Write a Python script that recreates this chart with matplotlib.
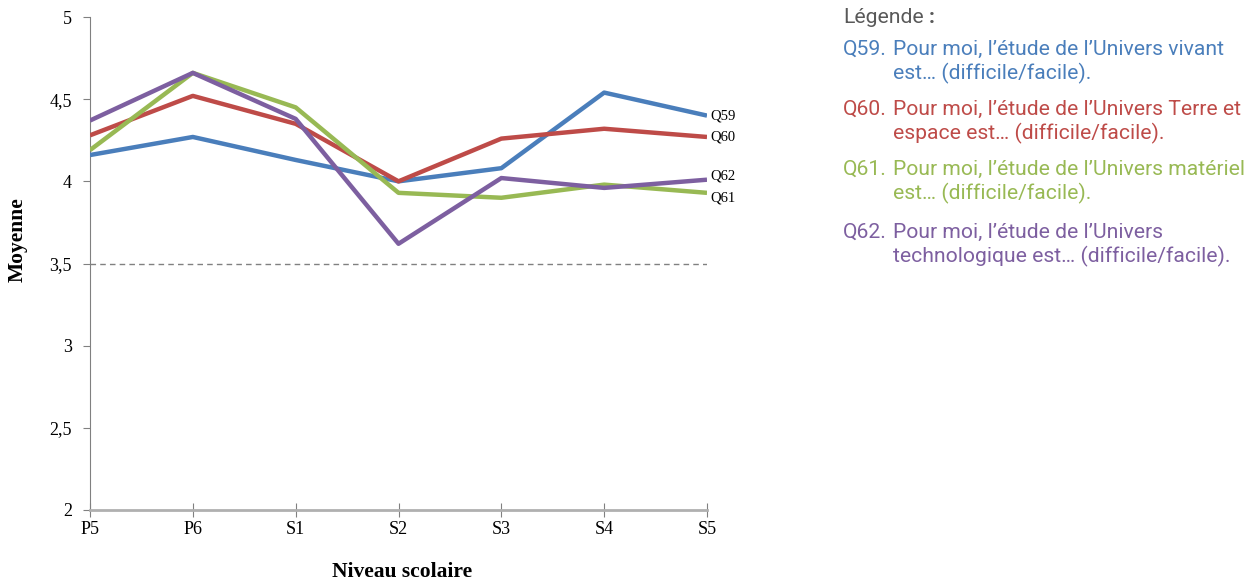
import numpy as np
import matplotlib.pyplot as plt

levels = ["P5", "P6", "S1", "S2", "S3", "S4", "S5"]
q59 = [4.16, 4.27, 4.13, 4.00, 4.08, 4.54, 4.40]
q60 = [4.28, 4.52, 4.35, 4.00, 4.26, 4.32, 4.27]
q61 = [4.19, 4.66, 4.45, 3.93, 3.90, 3.98, 3.93]
q62 = [4.37, 4.66, 4.38, 3.62, 4.02, 3.96, 4.01]

series_names = ["Q59", "Q60", "Q61", "Q62"]
legend_texts = [
    "Pour moi, l\u2019étude de l\u2019Univers vivant\nest\u2026 (difficile/facile).",
    "Pour moi, l\u2019étude de l\u2019Univers Terre et\nespace est\u2026 (difficile/facile).",
    "Pour moi, l\u2019étude de l\u2019Univers matériel\nest\u2026 (difficile/facile).",
    "Pour moi, l\u2019étude de l\u2019Univers\ntechnologique est\u2026 (difficile/facile).",
]
colors = ["#4a7ebb", "#be4b48", "#98b954", "#7d5fa0"]

y_ticks = [2, 2.5, 3, 3.5, 4, 4.5, 5]
y_ticklabels = ["2", "2,5", "3", "3,5", "4", "4,5", "5"]

W, H = 1258, 587
fig = plt.figure(figsize=(W / 100, H / 100), dpi=100)
ax = fig.add_axes([90 / W, 1 - 510 / H, (707 - 90) / W, (510 - 17) / H])

x = np.arange(len(levels))
data = [q59, q60, q61, q62]
serif = "Liberation Serif"

ax.axhline(3.5, color="#808080", linestyle=(0, (4, 3)), linewidth=1, zorder=1)
for vals, name, c in zip(data, series_names, colors):
    ax.plot(x, vals, color=c, linewidth=3.2, solid_capstyle="butt", zorder=3)

# labels at the line ends
label_offsets = {"Q59": 0.0, "Q60": 0.0, "Q61": -0.03, "Q62": 0.02}
for vals, name in zip(data, series_names):
    ax.text(x[-1] + 0.03, vals[-1] + label_offsets[name], name, fontsize=10.5,
            family=serif, va="center", ha="left", clip_on=False)

ax.set_xlim(0, len(levels) - 1)
ax.set_ylim(2, 5)
ax.set_xticks(x)
ax.set_xticklabels(levels, family=serif, fontsize=13)
ax.set_yticks(y_ticks)
ax.set_yticklabels(y_ticklabels, family=serif, fontsize=13)
ax.tick_params(axis="y", direction="out", length=5, color="#808080", pad=8)
ax.tick_params(axis="x", direction="inout", length=10, color="#808080", pad=3)

for s in ["top", "right"]:
    ax.spines[s].set_visible(False)
ax.spines["left"].set_color("#808080")
ax.spines["bottom"].set_color("#b0b0b0")
ax.spines["bottom"].set_linewidth(2)
ax.set_facecolor("none")

fig.text(18 / W, 1 - 240 / H, "Moyenne", rotation=90, family=serif,
         fontweight="bold", fontsize=15.5, ha="center", va="center")
fig.text(402 / W, 1 - 572 / H, "Niveau scolaire", family=serif,
         fontweight="bold", fontsize=15.5, ha="center", va="center")

# legend block on the right
fs = 15.2
fig.text(843 / W, 1 - 8 / H, "Légende", family="Roboto", fontsize=fs,
         color="#595959", ha="left", va="top")
fig.text(929 / W, 1 - 8 / H, ":", family="Roboto", fontsize=fs,
         fontweight="bold", color="#595959", ha="left", va="top")
item_tops = [40, 100, 160, 223]
for top, name, txt, c in zip(item_tops, series_names, legend_texts, colors):
    fig.text(843 / W, 1 - top / H, name + ".", family="Roboto", fontsize=fs,
             color=c, ha="left", va="top")
    fig.text(893 / W, 1 - top / H, txt, family="Roboto", fontsize=fs,
             color=c, ha="left", va="top", linespacing=1.26)

fig.savefig("out.png", dpi=100)
